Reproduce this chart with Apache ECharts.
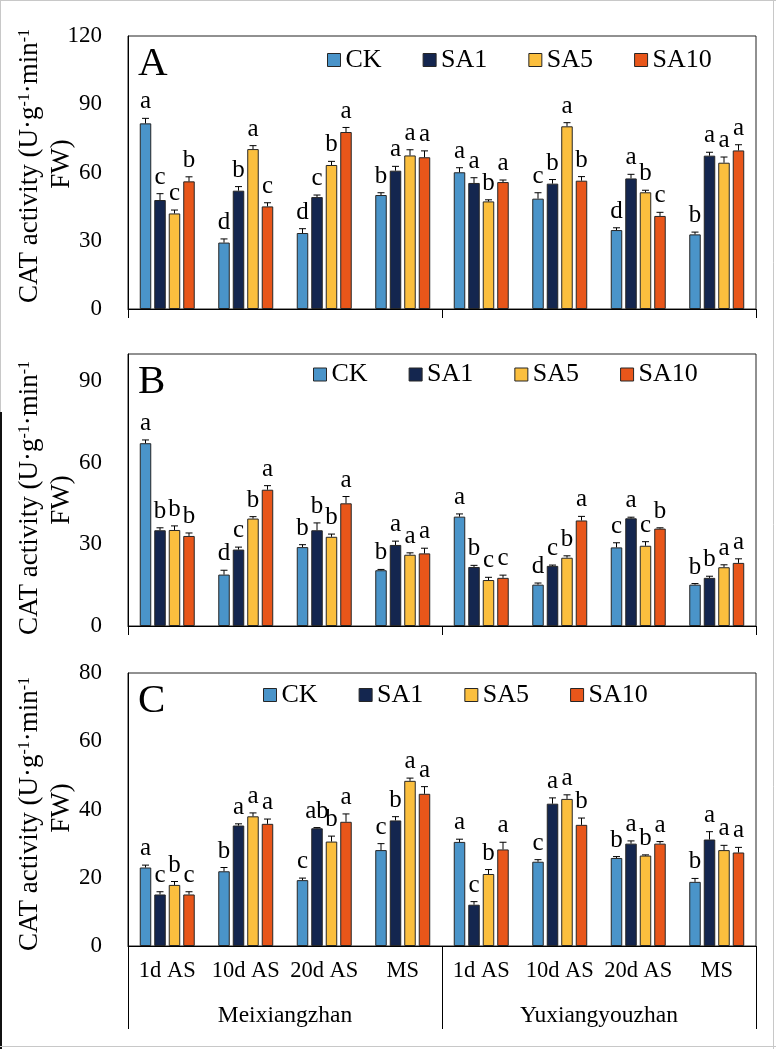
<!DOCTYPE html>
<html><head><meta charset="utf-8">
<script src="https://cdn.jsdelivr.net/npm/echarts@6/dist/echarts.min.js"></script>
<style>html,body{margin:0;padding:0;background:#fff}#c{width:776px;height:1049px}</style>
</head><body><div id="c"></div>
<script>
// ---------- DATA ----------
const categories = ['1d AS','10d AS','20d AS','MS','1d AS','10d AS','20d AS','MS'];
const cultivars = ['Meixiangzhan','Yuxiangyouzhan'];
const treatments = ['CK','SA1','SA5','SA10'];
const panelLabels = ['A','B','C'];
const yRangeA = [0, 120, 30];
const yRangeB = [0, 100, 30];
const yRangeC = [0, 80, 20];

// Panel A
const A_CK   = [81.6, 29.2, 33.4, 50.1, 60.1, 48.5, 34.7, 32.8];
const A_SA1  = [47.9, 52.0, 49.2, 60.8, 55.4, 55.1, 57.4, 67.4];
const A_SA5  = [42.0, 70.3, 63.3, 67.5, 47.3, 80.3, 51.3, 64.3];
const A_SA10 = [56.1, 45.1, 77.8, 66.7, 55.8, 56.4, 40.9, 69.7];
const A_CK_err   = [2.2, 1.6, 1.9, 1.0, 2.0, 2.6, 1.0, 1.0];
const A_SA1_err  = [2.8, 1.8, 0.9, 1.9, 2.3, 1.8, 1.8, 1.5];
const A_SA5_err  = [1.5, 1.5, 1.6, 2.5, 0.7, 1.6, 0.9, 2.5];
const A_SA10_err = [2.0, 1.6, 2.0, 2.8, 0.9, 1.8, 1.6, 2.5];
const A_CK_sig   = ['a','d','d','b','a','c','d','b'];
const A_SA1_sig  = ['c','b','c','a','a','b','a','a'];
const A_SA5_sig  = ['c','a','b','a','b','a','b','a'];
const A_SA10_sig = ['b','c','a','a','a','b','c','a'];

// Panel B
const B_CK   = [67.2, 18.9, 29.0, 20.5, 40.2, 15.2, 28.9, 15.2];
const B_SA1  = [35.2, 28.1, 35.2, 29.8, 21.7, 22.1, 39.6, 17.7];
const B_SA5  = [35.3, 39.5, 32.8, 26.2, 16.9, 25.1, 29.5, 21.6];
const B_SA10 = [33.1, 50.1, 45.1, 26.7, 17.7, 38.8, 35.8, 23.2];
const B_CK_err   = [1.2, 1.6, 0.9, 0.3, 1.0, 0.6, 1.7, 0.4];
const B_SA1_err  = [0.9, 0.9, 2.7, 1.4, 0.6, 0.3, 0.4, 0.6];
const B_SA5_err  = [1.5, 0.7, 1.0, 0.7, 1.0, 0.7, 1.5, 0.9];
const B_SA10_err = [1.1, 1.5, 2.5, 1.9, 1.0, 1.5, 0.3, 1.5];
const B_CK_sig   = ['a','d','b','b','a','d','c','b'];
const B_SA1_sig  = ['b','c','b','a','b','c','a','b'];
const B_SA5_sig  = ['b','b','b','a','c','b','c','a'];
const B_SA10_sig = ['b','a','a','a','c','a','b','a'];

// Panel C
const C_CK   = [23.0, 21.9, 19.3, 28.1, 30.5, 24.7, 25.8, 18.8];
const C_SA1  = [15.1, 35.3, 34.5, 36.8, 12.1, 41.7, 30.0, 31.2];
const C_SA5  = [17.9, 38.0, 30.6, 48.4, 21.1, 43.1, 26.5, 28.1];
const C_SA10 = [15.1, 35.8, 36.4, 44.6, 28.3, 35.5, 30.0, 27.4];
const C_CK_err   = [0.7, 1.1, 0.6, 1.9, 0.8, 0.6, 0.4, 1.0];
const C_SA1_err  = [0.8, 0.5, 0.2, 1.1, 0.9, 1.7, 0.8, 2.3];
const C_SA5_err  = [1.0, 1.0, 1.6, 0.8, 1.3, 1.2, 0.2, 1.4];
const C_SA10_err = [0.8, 1.4, 2.3, 2.1, 2.1, 2.0, 0.6, 1.5];
const C_CK_sig   = ['a','b','c','c','a','c','b','b'];
const C_SA1_sig  = ['c','a','ab','b','c','a','a','a'];
const C_SA5_sig  = ['b','a','b','a','b','a','b','a'];
const C_SA10_sig = ['c','a','a','a','a','b','a','a'];

// ---------- BUILD ----------
const FONT = 'Liberation Serif';
const colors = ['#4a94c9', '#14264f', '#fbbf3e', '#e8561a'];
const BAR_W = 11.5, STEP = 14.5;

const panels = [
  {vals:[A_CK,A_SA1,A_SA5,A_SA10], errs:[A_CK_err,A_SA1_err,A_SA5_err,A_SA10_err], sigs:[A_CK_sig,A_SA1_sig,A_SA5_sig,A_SA10_sig], range:yRangeA,
   top:36, height:273, legendLeft:327, legendTop:47, titleY1:166, titleY2:164, tickLen:9, showCat:false},
  {vals:[B_CK,B_SA1,B_SA5,B_SA10], errs:[B_CK_err,B_SA1_err,B_SA5_err,B_SA10_err], sigs:[B_CK_sig,B_SA1_sig,B_SA5_sig,B_SA10_sig], range:yRangeB,
   top:354, height:272, legendLeft:313, legendTop:361.5, titleY1:498, titleY2:500, tickLen:9, showCat:false},
  {vals:[C_CK,C_SA1,C_SA5,C_SA10], errs:[C_CK_err,C_SA1_err,C_SA5_err,C_SA10_err], sigs:[C_CK_sig,C_SA1_sig,C_SA5_sig,C_SA10_sig], range:yRangeC,
   top:673, height:273, legendLeft:263, legendTop:682, titleY1:814, titleY2:808, tickLen:83, showCat:true}
];

const grid = [], xAxis = [], yAxis = [], series = [], legend = [], graphic = [];

panels.forEach((p, pi) => {
  grid.push({left:128, right:20, top:p.top, height:p.height, show:true, borderColor:'#222', borderWidth:1});
  xAxis.push({
    type:'category', gridIndex:pi, data:categories, position:'bottom',
    axisLine:{show:true, lineStyle:{color:'#000', width:1}},
    axisTick:{show:false},
    axisLabel:{show:p.showCat, interval:0, margin:14, fontSize:22.5, fontFamily:FONT, color:'#000'},
    splitLine:{show:false}
  });
  xAxis.push({
    type:'category', gridIndex:pi, data:cultivars, position:'bottom',
    axisLine:{show:false},
    axisTick:{show:true, length:p.tickLen, lineStyle:{color:'#000', width:1}},
    axisLabel:{show:p.showCat, margin:58, fontSize:23.5, fontFamily:FONT, color:'#000'},
    splitLine:{show:false}
  });
  yAxis.push({
    type:'value', gridIndex:pi, min:p.range[0], max:p.range[1], interval:p.range[2],
    axisLine:{show:true, lineStyle:{color:'#000'}},
    axisTick:{show:false}, splitLine:{show:false},
    axisLabel:{margin:26, fontSize:23, fontFamily:FONT, color:'#000', showMaxLabel: pi !== 1}
  });
  treatments.forEach((t, ti) => {
    series.push({
      type:'bar', name:t, xAxisIndex:pi*2, yAxisIndex:pi, data:p.vals[ti],
      barWidth:BAR_W, barGap:'26%',
      itemStyle:{color:colors[ti], borderColor:'#262626', borderWidth:1},
      emphasis:{disabled:true}, animation:false
    });
  });
  treatments.forEach((t, ti) => {
    const sig = p.sigs[ti];
    series.push({
      type:'custom', xAxisIndex:pi*2, yAxisIndex:pi, z:5, clip:false, animation:false,
      data:p.vals[ti].map((v,i)=>[i, v, p.errs[ti][i]]),
      encode:{x:0, y:1},
      renderItem:(params, api) => {
        const i = api.value(0), v = api.value(1), e = api.value(2);
        const base = api.coord([i, v]);
        const top = api.coord([i, v + e]);
        const x = base[0] + (ti - 1.5) * STEP;
        return {type:'group', children:[
          {type:'line', shape:{x1:x, y1:base[1], x2:x, y2:top[1]}, style:{stroke:'#000', lineWidth:1}},
          {type:'line', shape:{x1:x-3.5, y1:top[1], x2:x+3.5, y2:top[1]}, style:{stroke:'#000', lineWidth:1}},
          {type:'text', x:x, y:top[1]-4, style:{text:sig[params.dataIndex], align:'center', verticalAlign:'bottom',
            fontSize:25, fontFamily:FONT, fill:'#000'}}
        ]};
      }
    });
  });
  legend.push({
    data:treatments, left:p.legendLeft, top:p.legendTop, orient:'horizontal', padding:0,
    itemWidth:13, itemHeight:13, itemGap:41, icon:'rect', selectedMode:false,
    itemStyle:{borderColor:'#262626', borderWidth:1},
    textStyle:{fontSize:26, fontFamily:FONT, color:'#000'}
  });
  // panel letter
  graphic.push({type:'text', left:138, top:p.top + 8, style:{text:panelLabels[pi], fontSize:41, fontFamily:FONT, fill:'#000'}});
  // y-axis title (two lines, rotated)
  graphic.push({type:'text', x:30, y:p.titleY1, rotation:Math.PI/2,
    style:{text:'{m|CAT activity (U·g}{s|-1}{m|·min}{s|-1}', align:'center', verticalAlign:'middle',
      rich:{m:{fontSize:27, fontFamily:FONT, fill:'#000'}, s:{fontSize:16, fontFamily:FONT, fill:'#000', verticalAlign:'top'}}}});
  graphic.push({type:'text', x:62, y:p.titleY2, rotation:Math.PI/2,
    style:{text:'FW)', align:'center', verticalAlign:'middle', fontSize:27, fontFamily:FONT, fill:'#000'}});
});

// image frame artifacts
graphic.push({type:'line', shape:{x1:0, y1:0.5, x2:776, y2:0.5}, style:{stroke:'#c8c8c8', lineWidth:1}});
graphic.push({type:'line', shape:{x1:773.5, y1:0, x2:773.5, y2:1049}, style:{stroke:'#c8c8c8', lineWidth:1}});
graphic.push({type:'line', shape:{x1:0.5, y1:0, x2:0.5, y2:412}, style:{stroke:'#c8c8c8', lineWidth:1}});
graphic.push({type:'line', shape:{x1:1, y1:412, x2:1, y2:1049}, style:{stroke:'#111', lineWidth:2}});
graphic.push({type:'line', shape:{x1:0, y1:1046.5, x2:776, y2:1046.5}, style:{stroke:'#c8c8c8', lineWidth:1}});

const chart = echarts.init(document.getElementById('c'), null, {renderer:'canvas'});
chart.setOption({animation:false, backgroundColor:'#fff', grid, xAxis, yAxis, series, legend, graphic});
</script>
</body></html>
